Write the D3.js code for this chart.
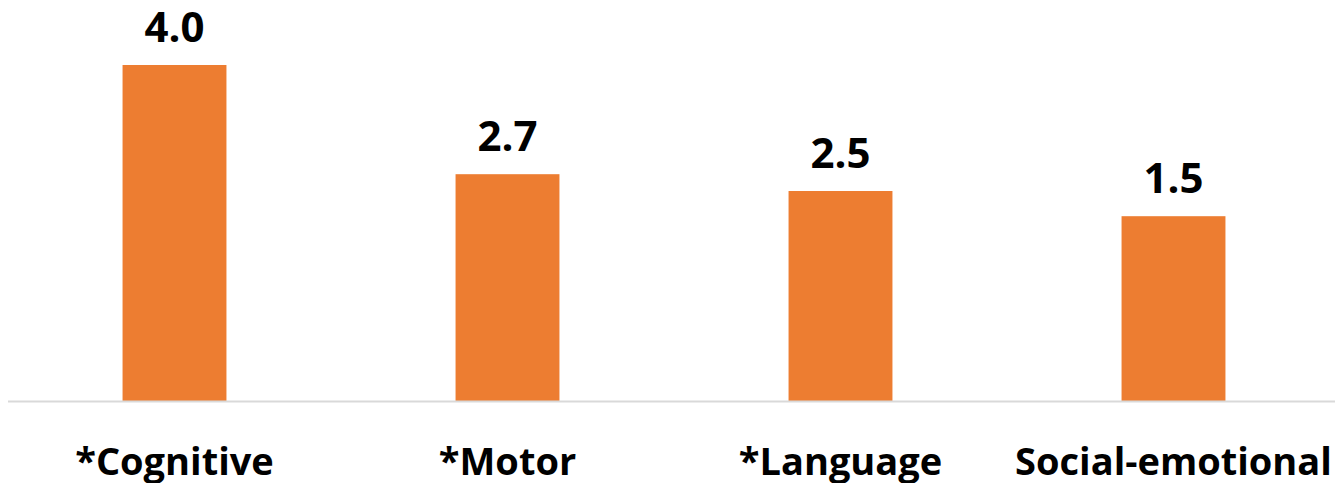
<!DOCTYPE html>
<html><head><meta charset="utf-8">
<script src="https://cdn.jsdelivr.net/npm/d3@7"></script>
<style>html,body{margin:0;padding:0;background:#fff;}svg{display:block;}</style>
</head><body>
<svg id="chart" width="1335" height="483"></svg>
<script>
const categories = ["*Cognitive", "*Motor", "*Language", "Social-emotional"];
// bar heights as drawn in the picture
const barValues = [4.0, 2.7, 2.5, 2.2];
// data labels as printed above the bars
const valueLabels = ["4.0", "2.7", "2.5", "1.5"];

const svg = d3.select("#chart");
const W = 1335, H = 483;
const baseY = 401;

const x = d3.scaleBand().domain(categories).range([8, 1340])
  .paddingInner(0.688).paddingOuter(0.344);
const y = d3.scaleLinear().domain([0, 4]).range([baseY, 65]);

svg.selectAll("rect.bar").data(categories).enter().append("rect")
  .attr("class", "bar")
  .attr("x", d => x(d))
  .attr("width", x.bandwidth())
  .attr("y", (d, i) => y(barValues[i]))
  .attr("height", (d, i) => y(0) - y(barValues[i]))
  .attr("fill", "#ED7D31");

// baseline axis
const axis = d3.axisBottom(x).tickSize(0).tickPadding(0).tickFormat("");
const g = svg.append("g").attr("transform", `translate(0,${baseY})`).call(axis);
g.select(".domain").attr("d", `M8,0.5H${W}`).attr("stroke", "#D9D9D9").attr("stroke-width", 2);

svg.selectAll("text.val").data(categories).enter().append("text")
  .attr("class", "val")
  .attr("x", d => x(d) + x.bandwidth() / 2)
  .attr("y", (d, i) => y(barValues[i]) - 23)
  .attr("text-anchor", "middle")
  .attr("font-family", "'Open Sans', sans-serif")
  .attr("font-weight", "bold")
  .attr("font-size", 42)
  .attr("fill", "#000")
  .text((d, i) => valueLabels[i]);

svg.selectAll("text.cat").data(categories).enter().append("text")
  .attr("class", "cat")
  .attr("x", d => x(d) + x.bandwidth() / 2)
  .attr("y", 475)
  .attr("text-anchor", "middle")
  .attr("font-family", "'Open Sans', sans-serif")
  .attr("font-weight", "bold")
  .attr("font-size", 38)
  .attr("fill", "#000")
  .text(d => d);
</script>
</body></html>
